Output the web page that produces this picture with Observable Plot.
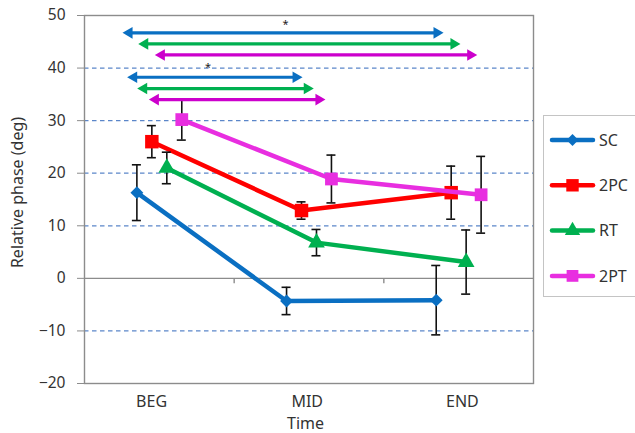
<!DOCTYPE html>
<html><head><meta charset="utf-8">
<script src="https://cdn.jsdelivr.net/npm/d3@7"></script>
<script src="https://cdn.jsdelivr.net/npm/@observablehq/plot@0.6"></script>
<style>
body{margin:0;background:#fff;font-family:"Noto Sans",sans-serif;}
#wrap{position:relative;width:635px;height:433px;overflow:hidden;}
#legend{position:absolute;left:543px;top:115px;width:110px;height:182px;border:1px solid #c4c4c4;box-sizing:border-box;background:#fff;}
</style></head><body><div id="wrap"></div>
<script>
// ---- data ----
const categories = ["BEG", "MID", "END"];
const series = ["SC", "2PC", "RT", "2PT"];
const meanSC  = [16.3, -4.3, -4.15];
const mean2PC = [26.0, 12.9, 16.3];
const meanRT  = [21.0, 6.8, 3.1];
const mean2PT = [30.2, 18.9, 15.9];
const sdSC  = [5.3, 2.6, 6.6];
const sd2PC = [3.05, 1.65, 5.05];
const sdRT  = [3.0, 2.5, 6.1];
const sd2PT = [3.9, 4.55, 7.3];
const yTicks = [-20, -10, 0, 10, 20, 30, 40, 50];
const gridValues = [-10, 10, 20, 30, 40];
const xTickLabelPos = [0.948, 1.988, 3.025];
// significance arrows (chart units)
const arrowSeries = ["SC", "RT", "2PT", "SC", "RT", "2PT"];
const arrowFrom = [0.754, 0.859, 0.970, 0.785, 0.852, 0.930];
const arrowTo   = [2.899, 3.012, 3.124, 1.957, 2.032, 2.110];
const arrowY    = [46.7, 44.6, 42.5, 38.25, 36.1, 34.0];
const starX = [1.843, 1.326];
const starY = [48.3, 40.1];

// ---- styling ----
const lineColor = {SC: "#0a6fc2", "2PC": "#ff0000", RT: "#00b050", "2PT": "#e82ee0"};
const arrowColor = {SC: "#0a6fc2", RT: "#00b050", "2PT": "#cc00cc"};
const symbolOf = {SC: "diamond2", "2PC": "square", RT: "triangle", "2PT": "square"};
const rOf = {SC: 5.8, "2PC": 7.6, RT: 6.2, "2PT": 7.2};
const offsetOf = {SC: -0.15, "2PC": -0.05, RT: 0.05, "2PT": 0.15};
const means = {SC: meanSC, "2PC": mean2PC, RT: meanRT, "2PT": mean2PT};
const sds = {SC: sdSC, "2PC": sd2PC, RT: sdRT, "2PT": sd2PT};
const gray = "#8c8c8c";
const FS = 16;

const vtick = {draw(ctx, size) { const r = Math.sqrt(size / Math.PI); ctx.moveTo(0, 0); ctx.lineTo(0, r); }};

const marks = [
  Plot.ruleY(gridValues, {stroke: "#5b86c9", strokeWidth: 1.3, strokeDasharray: "4.5,3.5"}),
  Plot.ruleY([0], {stroke: gray, strokeWidth: 1.4}),
  Plot.dot([1.5, 2.5], {x: d => d, y: () => 0, symbol: vtick, r: 5, stroke: gray, fill: "none", strokeWidth: 1.4}),
  Plot.frame({stroke: gray, strokeWidth: 1.4}),
  Plot.axisY({ticks: yTicks, tickSize: 7, tickPadding: 12, stroke: gray, fontSize: 15.5, label: null, fill: "#333"}),
  Plot.axisX(xTickLabelPos, {tickSize: 0, tickPadding: 12, tickFormat: (d, i) => categories[i], fontSize: FS, label: null, fill: "#333"}),
  Plot.text(["Relative phase (deg)"], {frameAnchor: "left", dx: -67, dy: -7, rotate: -90, textAnchor: "middle", lineAnchor: "middle", fontSize: FS, fill: "#333", text: d => d}),
  Plot.text(["Time"], {frameAnchor: "bottom", dx: -3.5, dy: 40.5, textAnchor: "middle", lineAnchor: "middle", fontSize: FS, fill: "#333", text: d => d})
];

for (const s of series) {
  const rows = categories.map((c, j) => ({x: j + 1 + offsetOf[s], y: means[s][j], sd: sds[s][j]}));
  marks.push(
    Plot.line(rows, {x: "x", y: "y", stroke: lineColor[s], strokeWidth: 4.5, strokeLinejoin: "round"}),
    Plot.ruleX(rows, {x: "x", y1: d => d.y - d.sd, y2: d => d.y + d.sd, stroke: "#111", strokeWidth: 1.6}),
    Plot.ruleY(rows, {x1: "x", x2: "x", y: d => d.y + d.sd, insetLeft: -4.5, insetRight: -4.5, stroke: "#111", strokeWidth: 1.6}),
    Plot.ruleY(rows, {x1: "x", x2: "x", y: d => d.y - d.sd, insetLeft: -4.5, insetRight: -4.5, stroke: "#111", strokeWidth: 1.6}),
    Plot.dot(rows, {x: "x", y: "y", symbol: symbolOf[s], r: rOf[s], fill: lineColor[s], stroke: "none"})
  );
}

const arrows = arrowSeries.map((s, i) => ({s, x1: arrowFrom[i], x2: arrowTo[i], y: arrowY[i]}));
const headR = 4.3, headOff = 2 * 0.7776 * headR;
marks.push(
  Plot.ruleY(arrows, {x1: "x1", x2: "x2", y: "y", stroke: d => arrowColor[d.s], strokeWidth: 3.2, insetLeft: 7, insetRight: 7}),
  Plot.dot(arrows, {x: "x1", y: "y", symbol: "triangle", r: headR, rotate: -90, dx: headOff, fill: d => arrowColor[d.s], stroke: "none"}),
  Plot.dot(arrows, {x: "x2", y: "y", symbol: "triangle", r: headR, rotate: 90, dx: -headOff, fill: d => arrowColor[d.s], stroke: "none"}),
  Plot.text(starX.map((x, i) => ({x, y: starY[i]})), {x: "x", y: "y", text: () => "*", fontSize: 11, fill: "#222"})
);

const chart = Plot.plot({
  width: 635, height: 433,
  marginLeft: 84, marginRight: 102, marginTop: 15, marginBottom: 50,
  x: {domain: [0.5, 3.5]},
  y: {domain: [-20, 50]},
  color: {type: "identity"},
  style: {fontFamily: "Noto Sans, sans-serif", fontSize: FS + "px", color: "#333", background: "#fff", overflow: "visible"},
  marks
});
const wrap = document.getElementById("wrap");
wrap.appendChild(chart);

// legend
const leg = document.createElement("div");
leg.id = "legend";
wrap.appendChild(leg);
const lsvg = d3.select(leg).append("svg").attr("width", 110).attr("height", 180);
series.forEach((s, i) => {
  const cy = 24 + i * 45.3;
  const g = lsvg.append("g").attr("transform", `translate(0,${cy})`);
  g.append("line").attr("x1", 8).attr("x2", 49).attr("y1", 0).attr("y2", 0).attr("stroke", lineColor[s]).attr("stroke-width", 4.5).attr("stroke-linecap", "round");
  const symMap = {diamond2: d3.symbolDiamond2, square: d3.symbolSquare, triangle: d3.symbolTriangle};
  const sym = d3.symbol(symMap[symbolOf[s]], Math.PI * rOf[s] * rOf[s] * 0.85);
  g.append("path").attr("transform", "translate(28.5,0)").attr("d", sym()).attr("fill", lineColor[s]);
  g.append("text").attr("x", 55).attr("y", 0).attr("dy", "0.35em").attr("font-size", 16).attr("fill", "#333").attr("font-family", "Noto Sans, sans-serif").text(s);
});
</script>
</body></html>
